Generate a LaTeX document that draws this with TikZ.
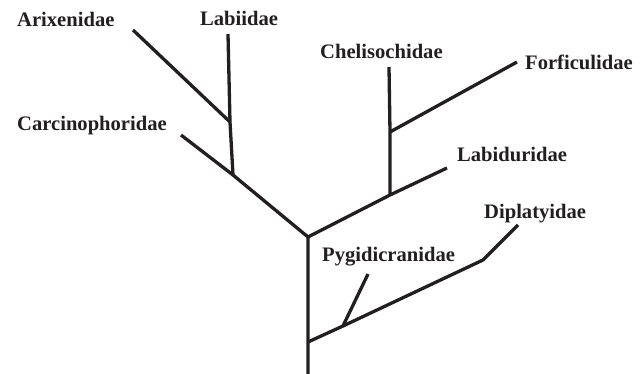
\documentclass[tikz,border=0pt]{standalone}
\usepackage{fontspec}
\setmainfont{Liberation Serif}
\usepackage{tikz}
\usepackage{xcolor}
\usetikzlibrary{positioning, calc}
\definecolor{TreeInk}{HTML}{231F20}

\begin{document}
\begin{tikzpicture}[x=1pt, y=-1pt,
  branch/.style={draw=TreeInk, line width=3.3pt, line join=miter},
  taxon/.style={anchor=base west, inner sep=0pt, text=TreeInk,
                font=\fontsize{20.6}{24}\selectfont\bfseries}]
\useasboundingbox (0,0) rectangle (640,374);
% junctions and tips
\coordinate (root) at (308,374);
\coordinate (jmain) at (308,237);
\coordinate (jlow) at (308,342);
\coordinate (jleft) at (233,175);
\coordinate (jarix) at (230,122);
\coordinate (tlab) at (228,34);
\coordinate (tarix) at (133,30);
\coordinate (tcarc) at (181,135);
\coordinate (jright) at (390,195);
\coordinate (tlabid) at (447,168);
\coordinate (jforf) at (390,132);
\coordinate (tchel) at (389,67);
\coordinate (tforf) at (517,62);
\coordinate (jpyg) at (343,326);
\coordinate (bdip) at (483,260);
\coordinate (tdip) at (518,225);
\coordinate (tpyg) at (368,274);
% labels
\node[taxon] (arix) at (17,26.5) {Arixenidae};
\node[taxon] (labi) at (200,26) {Labiidae};
\node[taxon] (carc) at (17,131) {Carcinophoridae};
\node[taxon] (chel) at (320,58.5) {Chelisochidae};
\node[taxon] (forf) at (525,70) {Forficulidae};
\node[taxon] (labd) at (457,162) {Labiduridae};
\node[taxon] (dipl) at (484,219) {Diplatyidae};
\node[taxon] (pygi) at (322,261.5) {Pygidicranidae};
% branches
\draw[branch] (root) -- (jmain) -- (jleft) -- (jarix) -- (tlab);
\draw[branch] (jarix) -- (tarix);
\draw[branch] (jleft) -- (tcarc);
\draw[branch] (jmain) -- (jright) -- (tlabid);
\draw[branch] (jright) -- (jforf) -- (tchel);
\draw[branch] (jforf) -- (tforf);
\draw[branch] (jlow) -- (jpyg) -- (bdip) -- (tdip);
\draw[branch] (jpyg) -- (tpyg);
\end{tikzpicture}
\end{document}
